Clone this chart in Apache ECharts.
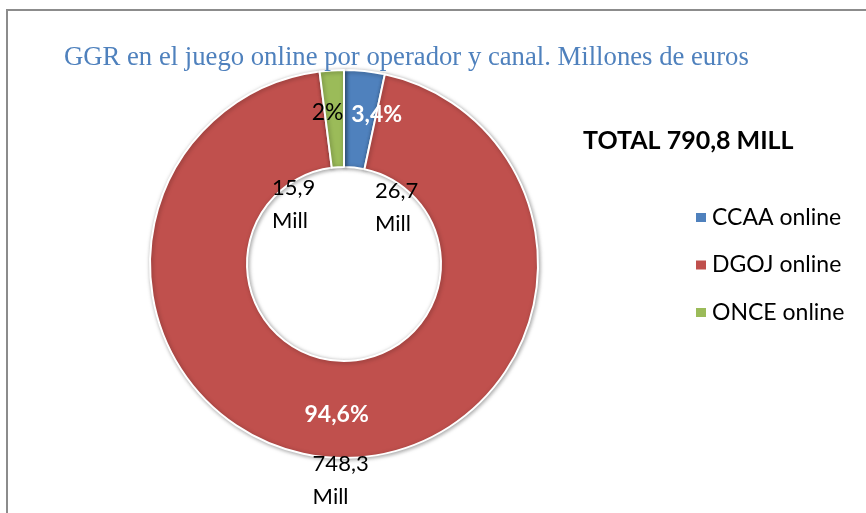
<!DOCTYPE html>
<html>
<head>
<meta charset="utf-8">
<script src="https://cdn.jsdelivr.net/npm/echarts@6/dist/echarts.min.js"></script>
<style>
    html, body { margin: 0; padding: 0; background: #fff; }
    #main { width: 866px; height: 513px; }
</style>
</head>
<body>
<div id="main"></div>
<script>
// datos
const categories = ['CCAA online', 'DGOJ online', 'ONCE online']
const values = [26.7, 748.3, 15.9]
const pctLabels = ['3,4%', '94,6%', '2%']
const valueLabels = ['26,7', '748,3', '15,9']
const unitLabel = 'Mill'
const colors = ['#4F81BD', '#C0504D', '#9BBB59']
const titleText = 'GGR en el juego online por operador y canal. Millones de euros'
const totalText = 'TOTAL 790,8 MILL'

const bodyFont = 'Lato'

// ajustes de las etiquetas (como en el excel original)
const pctStyle = [
    { color: '#fff', fontWeight: 'bold', offset: [17, -2] },
    { color: '#fff', fontWeight: 'bold', offset: [-1, 2] },
    { color: '#000', fontWeight: 'normal', offset: [-7, -3] }
]
const valOffsets = [[37, 91], [3, 68], [-41, 89]]

const myChart = echarts.init(document.getElementById('main'))

const pctData = values.map((v, i) => ({
    name: categories[i],
    value: v,
    itemStyle: { color: colors[i] },
    label: {
        formatter: pctLabels[i],
        color: pctStyle[i].color,
        fontWeight: pctStyle[i].fontWeight,
        offset: pctStyle[i].offset
    }
}))

const valData = values.map((v, i) => ({
    name: categories[i],
    value: v,
    label: {
        formatter: '{v|' + valueLabels[i] + '}\n{v|' + unitLabel + '}',
        offset: valOffsets[i]
    }
}))

myChart.setOption({
    animation: false,
    color: colors,
    title: [
        {
            text: titleText,
            left: 64,
            top: 44,
            padding: 0,
            textStyle: {
                fontFamily: 'Liberation Serif',
                fontWeight: 'normal',
                fontSize: 26.7,
                color: '#4F81BD'
            }
        },
        {
            text: totalText,
            left: 583,
            top: 128,
            padding: 0,
            textStyle: {
                fontFamily: bodyFont,
                fontWeight: 'bold',
                fontSize: 25,
                color: '#000'
            }
        }
    ],
    legend: {
        orient: 'vertical',
        left: 694,
        top: 206,
        padding: 0,
        itemWidth: 12,
        itemHeight: 11,
        itemGap: 24.5,
        itemTextGap: 9,
        icon: 'rect',
        data: categories,
        textStyle: { fontFamily: bodyFont, fontSize: 23, color: '#000' }
    },
    graphic: [
        {
            type: 'rect',
            shape: { x: 7, y: 10, width: 900, height: 600 },
            style: { fill: 'none', stroke: '#8c8c8c', lineWidth: 2 },
            silent: true
        }
    ],
    series: [
        {
            name: 'GGR',
            type: 'pie',
            center: [344, 264],
            radius: [97, 194],
            startAngle: 90,
            clockwise: true,
            avoidLabelOverlap: false,
            itemStyle: {
                borderColor: '#fff',
                borderWidth: 2,
                shadowBlur: 4,
                shadowColor: 'rgba(0,0,0,0.35)',
                shadowOffsetX: 1,
                shadowOffsetY: 1
            },
            label: {
                show: true,
                position: 'inside',
                fontFamily: bodyFont,
                fontSize: 23
            },
            labelLine: { show: false },
            emphasis: { disabled: true },
            data: pctData
        },
        {
            name: 'valores',
            type: 'pie',
            center: [344, 264],
            radius: [97, 194],
            startAngle: 90,
            clockwise: true,
            silent: true,
            avoidLabelOverlap: false,
            itemStyle: { color: 'rgba(0,0,0,0)', borderWidth: 0 },
            label: {
                show: true,
                position: 'inside',
                rich: {
                    v: {
                        fontFamily: bodyFont,
                        fontSize: 22,
                        lineHeight: 33,
                        color: '#000',
                        align: 'left'
                    }
                }
            },
            labelLine: { show: false },
            emphasis: { disabled: true },
            data: valData
        }
    ]
})
</script>
</body>
</html>
